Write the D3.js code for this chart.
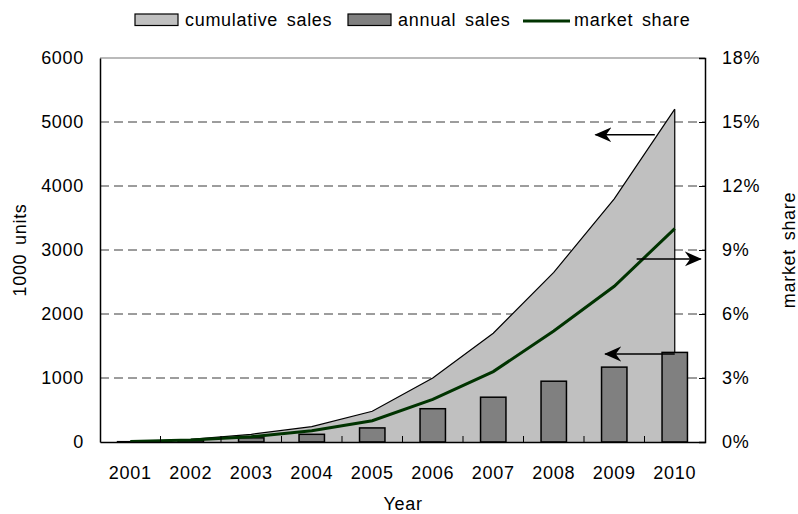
<!DOCTYPE html>
<html>
<head>
<meta charset="utf-8">
<script src="https://cdn.jsdelivr.net/npm/d3@7/dist/d3.min.js"></script>
<style>
  html, body { margin: 0; padding: 0; background: #fff; }
  svg text { font-family: "Liberation Sans", Arial, sans-serif; fill: #000; }
</style>
</head>
<body>
<svg id="chart" width="798" height="514"></svg>
<script>
// Yearly figures
const years = ["2001","2002","2003","2004","2005","2006","2007","2008","2009","2010"];
const cumulativeSales = [0, 40, 120, 240, 480, 1000, 1700, 2650, 3800, 5200];   // 1000 units
const annualSales     = [5, 30, 65, 120, 220, 520, 700, 950, 1170, 1400];       // 1000 units
const marketShare     = [0.0002, 0.0009, 0.0025, 0.0053, 0.010, 0.020, 0.033, 0.052, 0.073, 0.100];

// Axis tick values
const leftTicks  = [0, 1000, 2000, 3000, 4000, 5000, 6000];
const rightTicks = [0, 0.03, 0.06, 0.09, 0.12, 0.15, 0.18];

// Annotation arrows: x in year-index units, y on the given axis
const arrows = [
  { axis: "left",  from: [8.67, 4800], to: [7.69, 4800] },
  { axis: "right", from: [8.37, 0.0858], to: [9.43, 0.0858] },
  { axis: "left",  from: [9.0, 1375], to: [7.85, 1375] }
];

const legendItems = [
  { label: "cumulative sales", kind: "area" },
  { label: "annual sales",     kind: "bar" },
  { label: "market share",     kind: "line" }
];

const W = 798, H = 514;
const margin = { left: 100, right: 93, top: 58, bottom: 72 };
const x0 = margin.left, x1 = W - margin.right;
const y0 = H - margin.bottom, y1 = margin.top;

const svg = d3.select("#chart");
const FS = 18, LS = "0.7px", WS = "3px";
const styleText = sel => sel.attr("font-size", FS).style("letter-spacing", LS).style("word-spacing", WS)
  .style("font-family", "Liberation Sans, Arial, sans-serif").attr("fill", "#000");

const x = d3.scaleBand().domain(years).range([x0, x1]).paddingInner(0).paddingOuter(0);
const xIdx = d3.scaleLinear().domain([0, years.length - 1])
  .range([x(years[0]) + x.bandwidth() / 2, x(years[years.length - 1]) + x.bandwidth() / 2]);
const yL = d3.scaleLinear().domain([0, 6000]).range([y0, y1]);
const yR = d3.scaleLinear().domain([0, 0.18]).range([y0, y1]);
const cx = d => x(d) + x.bandwidth() / 2;

// gridlines
svg.append("g").selectAll("line")
  .data(leftTicks.filter(v => v > 0 && v < 6000))
  .join("line")
  .attr("x1", x0).attr("x2", x1)
  .attr("y1", d => yL(d)).attr("y2", d => yL(d))
  .attr("stroke", "#3a3a3a").attr("stroke-width", 1)
  .attr("stroke-dasharray", "9,5");

// top border
svg.append("line").attr("x1", x0).attr("x2", x1).attr("y1", y1).attr("y2", y1)
  .attr("stroke", "#777").attr("stroke-width", 1.2);

// cumulative area
const area = d3.area()
  .x((d, i) => cx(years[i]))
  .y0(yL(0))
  .y1(d => yL(d));
svg.append("path").datum(cumulativeSales)
  .attr("d", area).attr("fill", "#c0c0c0").attr("stroke", "none");
svg.append("path").datum(cumulativeSales)
  .attr("d", d3.line().x((d, i) => cx(years[i])).y(d => yL(d)))
  .attr("fill", "none").attr("stroke", "#000").attr("stroke-width", 1.2);
// closing edge at the last year
svg.append("line")
  .attr("x1", cx(years[years.length - 1])).attr("x2", cx(years[years.length - 1]))
  .attr("y1", yL(cumulativeSales[cumulativeSales.length - 1])).attr("y2", yL(0))
  .attr("stroke", "#000").attr("stroke-width", 1.2);

// annual bars
const barW = x.bandwidth() * 0.42;
svg.append("g").selectAll("rect")
  .data(annualSales)
  .join("rect")
  .attr("x", (d, i) => cx(years[i]) - barW / 2)
  .attr("width", barW)
  .attr("y", d => yL(d))
  .attr("height", d => yL(0) - yL(d))
  .attr("fill", "#808080")
  .attr("stroke", "#000").attr("stroke-width", 1.5);

// market share line
svg.append("path").datum(marketShare)
  .attr("d", d3.line().x((d, i) => cx(years[i])).y(d => yR(d)))
  .attr("fill", "none").attr("stroke", "#003300").attr("stroke-width", 3);

// axes
const leftAxis = d3.axisLeft(yL).tickValues(leftTicks).tickSize(0).tickPadding(16).tickFormat(d3.format("d"));
const gL = svg.append("g").attr("transform", `translate(${x0},0)`).call(leftAxis);
gL.select(".domain").attr("stroke", "#000").attr("stroke-width", 1.5);
gL.selectAll("text").call(styleText);

const rightAxis = d3.axisRight(yR).tickValues(rightTicks).tickSize(-6).tickPadding(17)
  .tickFormat(d3.format(".0%"));
const gR = svg.append("g").attr("transform", `translate(${x1},0)`).call(rightAxis);
gR.select(".domain").attr("stroke", "#000").attr("stroke-width", 1.5);
gR.selectAll(".tick line").attr("stroke", "#000");
gR.selectAll("text").call(styleText);

const bottomAxis = d3.axisBottom(x).tickSize(0).tickPadding(24);
const gB = svg.append("g").attr("transform", `translate(0,${y0})`).call(bottomAxis);
gB.select(".domain").attr("stroke", "#000").attr("stroke-width", 1.5);
gB.selectAll("text").call(styleText);
// category boundary ticks (inward)
svg.append("g").selectAll("line")
  .data(years.slice(1))
  .join("line")
  .attr("x1", d => x(d)).attr("x2", d => x(d))
  .attr("y1", y0).attr("y2", y0 - 6)
  .attr("stroke", "#000").attr("stroke-width", 1);

// axis titles
svg.append("text").attr("x", 403).attr("y", 510).attr("text-anchor", "middle")
  .call(styleText).text("Year");
svg.append("text").attr("transform", `translate(26,${(y0 + y1) / 2}) rotate(-90)`)
  .attr("text-anchor", "middle").call(styleText).text("1000 units");
svg.append("text").attr("transform", `translate(795,${(y0 + y1) / 2}) rotate(-90)`)
  .attr("text-anchor", "middle").call(styleText).text("market share");

// arrows
const defs = svg.append("defs");
defs.append("marker").attr("id", "head")
  .attr("viewBox", "0 0 16 16").attr("refX", 15).attr("refY", 8)
  .attr("markerWidth", 17).attr("markerHeight", 17).attr("markerUnits", "userSpaceOnUse")
  .attr("orient", "auto")
  .append("path").attr("d", "M0,1 L16,8 L0,15 L5,8 Z").attr("fill", "#000");
svg.append("g").selectAll("line")
  .data(arrows)
  .join("line")
  .attr("x1", d => xIdx(d.from[0]))
  .attr("x2", d => xIdx(d.to[0]))
  .attr("y1", d => (d.axis === "left" ? yL : yR)(d.from[1]))
  .attr("y2", d => (d.axis === "left" ? yL : yR)(d.to[1]))
  .attr("stroke", "#000").attr("stroke-width", 1.5)
  .attr("marker-end", "url(#head)");

// legend
const legendX = [135, 348, 523];
const legendTextX = [185, 398, 574];
const lg = svg.append("g");
legendItems.forEach((it, i) => {
  if (it.kind === "line") {
    lg.append("line").attr("x1", legendX[i]).attr("x2", legendX[i] + 47)
      .attr("y1", 21).attr("y2", 21).attr("stroke", "#003300").attr("stroke-width", 3);
  } else {
    lg.append("rect").attr("x", legendX[i]).attr("y", 14).attr("width", 43).attr("height", 11.5)
      .attr("fill", it.kind === "area" ? "#c0c0c0" : "#808080")
      .attr("stroke", "#000").attr("stroke-width", 1.2);
  }
  lg.append("text").attr("x", legendTextX[i]).attr("y", 26).call(styleText).text(it.label);
});
</script>
</body>
</html>
